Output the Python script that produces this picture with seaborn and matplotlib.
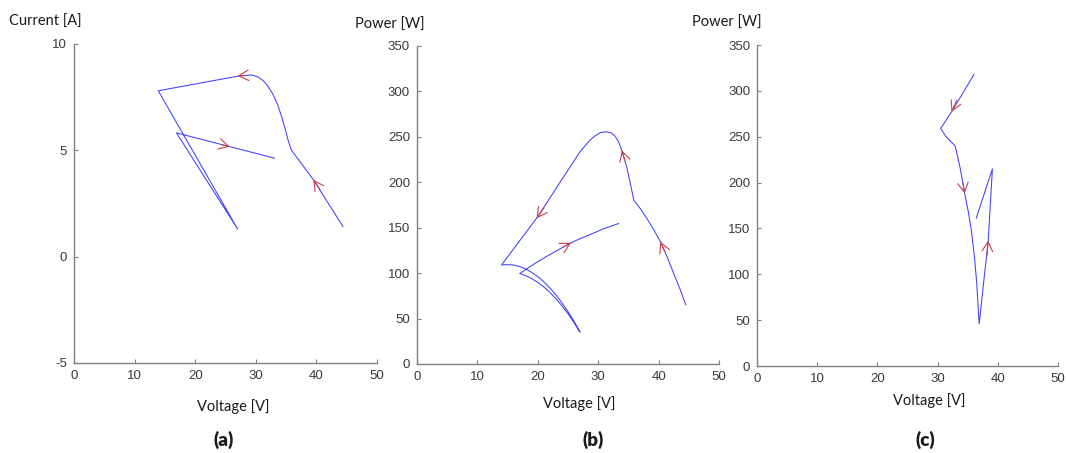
import seaborn as sns
import matplotlib.pyplot as plt
import pandas as pd

# (a) current vs voltage trajectory (in time order)
volt_a = [44.4, 39.5, 35.9, 35.4, 34.9, 34.3, 33.6, 32.8, 32.0, 31.2, 30.3, 29.3, 27.3, 13.9, 27.0, 16.9, 33.1]
curr_a = [1.41, 3.62, 5.00, 5.40, 5.95, 6.55, 7.15, 7.65, 8.02, 8.28, 8.46, 8.54, 8.50, 7.80, 1.30, 5.82, 4.63]

# (b) power vs voltage, same run
volt_b = [44.5, 43.5, 42.4, 41.4, 40.3, 39.2, 38.1, 37.0, 35.9, 35.3, 34.7, 33.9, 33.4, 32.8, 32.2, 31.3, 30.4, 29.5,
          28.6, 27.0, 23.5, 20.0, 14.0,
          15.0, 16.0, 17.0, 18.0, 19.0, 20.0, 21.0, 22.0, 23.0, 24.0, 25.0, 26.0, 27.0,
          26.0, 25.0, 24.0, 23.0, 22.0, 21.0, 20.0, 19.0, 18.0, 17.0,
          18.7, 20.0, 21.5, 23.0, 25.3, 27.0, 29.0, 31.0, 33.4]
pow_b = [65.0, 83.0, 101.0, 118.0, 134.5, 147.5, 159.5, 170.5, 180.0, 198.7, 217.0, 235.0, 244.0, 250.5, 254.0, 255.4,
         254.5, 251.0, 246.0, 233.5, 198.0, 162.0, 109.0,
         109.2, 108.8, 107.2, 104.5, 100.7, 96.0, 90.3, 83.6, 75.9, 67.2, 57.5, 46.8, 35.0,
         45.5, 55.2, 64.0, 71.8, 78.7, 84.7, 89.7, 93.8, 97.1, 99.4,
         107.0, 112.5, 118.5, 124.0, 132.7, 137.8, 143.3, 149.0, 154.5]

# (c) power vs voltage, second run
volt_c = [36.05, 32.3, 30.5, 31.4, 32.9, 33.3, 33.7, 34.1, 34.5, 35.1, 35.6, 36.1, 36.5, 36.9, 38.4, 39.1, 36.4]
pow_c = [318, 277, 259, 250, 240, 229, 217, 203, 188, 168, 148, 120, 90, 46, 137, 215, 161]

# direction arrows: (tip, tail)
arrows_a = [((27.0, 8.50), (28.2, 8.52)), ((25.7, 5.17), (24.5, 5.26)), ((39.5, 3.62), (40.6, 3.15))]
arrows_b = [((19.8, 160.0), (21.0, 171.5)), ((25.5, 133.2), (24.2, 128.5)),
            ((33.9, 235.0), (34.4, 224.0)), ((40.3, 134.5), (41.0, 123.5))]
arrows_c = [((32.3, 277.0), (33.2, 290.0)), ((34.5, 188.0), (34.2, 200.0)), ((38.4, 137.0), (38.2, 120.0))]

sns.set_theme(style="white")
plt.rcParams['font.family'] = ['Liberation Sans', 'DejaVu Sans']
plt.rcParams['axes.unicode_minus'] = False

fig = plt.figure(figsize=(10.67, 4.53), dpi=100)

panels = [
    dict(x=volt_a, y=curr_a, arrows=arrows_a, ylim=(-5, 10), yticks=[-5, 0, 5, 10], ylabel="Current [A]",
         pos=[0.0694, 0.1987, 0.2839, 0.7042], ylab_xy=(-0.096, 1.069), xlab_xy=(0.525, -0.138), cap="(a)", cap_x=0.210),
    dict(x=volt_b, y=pow_b, arrows=arrows_b, ylim=(0, 350), yticks=list(range(0, 351, 50)), ylabel="Power [W]",
         pos=[0.3908, 0.1965, 0.2831, 0.7026], ylab_xy=(-0.091, 1.065), xlab_xy=(0.536, -0.123), cap="(b)", cap_x=0.556),
    dict(x=volt_c, y=pow_c, arrows=arrows_c, ylim=(0, 350), yticks=list(range(0, 351, 50)), ylabel="Power [W]",
         pos=[0.7095, 0.192, 0.2821, 0.7086], ylab_xy=(-0.100, 1.069), xlab_xy=(0.571, -0.106), cap="(c)", cap_x=0.867),
]

for p in panels:
    ax = fig.add_axes(p["pos"])
    df = pd.DataFrame({"V": p["x"], "Y": p["y"]})
    sns.lineplot(data=df, x="V", y="Y", sort=False, estimator=None, color="#4040ff", linewidth=0.75, ax=ax)
    for tip, tail in p["arrows"]:
        ax.annotate("", xy=tip, xytext=tail,
                    arrowprops=dict(arrowstyle="->,head_length=0.7,head_width=0.38", color="#c8404c",
                                    lw=0.8, shrinkA=0, shrinkB=0, mutation_scale=10))
    ax.set_xlim(0, 50)
    ax.set_ylim(*p["ylim"])
    ax.set_xticks(range(0, 51, 10))
    ax.set_yticks(p["yticks"])
    ax.set_xlabel("")
    ax.set_ylabel("")
    sns.despine(ax=ax)
    for s in ["left", "bottom"]:
        ax.spines[s].set_color("#808080")
        ax.spines[s].set_linewidth(1.0)
    ax.tick_params(direction="in", length=3, width=0.8, color="#808080", labelcolor="#3a3a3a",
                   labelsize=9.5, pad=5, left=True, bottom=True)
    for lab in ax.get_xticklabels() + ax.get_yticklabels():
        lab.set_family(["Liberation Sans", "DejaVu Sans"])
    ax.text(*p["ylab_xy"], p["ylabel"], transform=ax.transAxes, ha="center", va="center",
            fontsize=10.5, family=["Lato", "DejaVu Sans"], color="#1a1a1a")
    ax.text(*p["xlab_xy"], "Voltage [V]", transform=ax.transAxes, ha="center", va="center",
            fontsize=10.5, family=["Lato", "DejaVu Sans"], color="#1a1a1a")
    fig.text(p["cap_x"], 0.0287, p["cap"], ha="center", va="center", fontsize=13.5, fontweight="heavy",
             family=["Lato", "DejaVu Sans"], color="#1a1a1a")

fig.savefig("out.png", dpi=100)
